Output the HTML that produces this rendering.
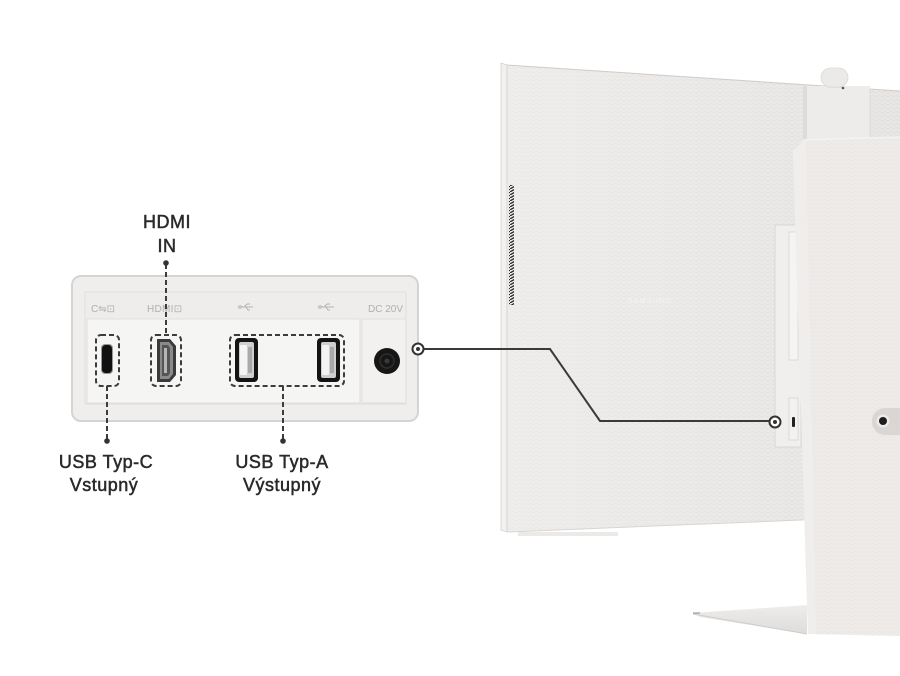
<!DOCTYPE html>
<html><head><meta charset="utf-8"><style>
html,body{margin:0;padding:0;background:#fff;}
body{width:900px;height:676px;overflow:hidden;}
svg{display:block;}
.lbl{font-family:"Liberation Sans",sans-serif;font-size:18px;fill:#2a2a2a;stroke:#2a2a2a;stroke-width:0.5px;letter-spacing:0.5px;}
.hd{font-family:"Liberation Sans","DejaVu Sans",sans-serif;font-size:10px;fill:#b2b0ae;}
</style></head><body>
<svg width="900" height="676" viewBox="0 0 900 676" xmlns="http://www.w3.org/2000/svg">
<defs>
  <pattern id="herr" width="6" height="4" patternUnits="userSpaceOnUse">
    <path d="M0 3.5 L3 1 L6 3.5" fill="none" stroke="#f6f5f4" stroke-width="0.8" opacity="0.55"/>
  </pattern>
  <pattern id="vent" width="5" height="3" patternUnits="userSpaceOnUse">
    <rect width="5" height="3" fill="#f0eeec"/>
    <path d="M-1 3.5 L6 -0.5" stroke="#2a2a2a" stroke-width="1.3"/>
  </pattern>
  <linearGradient id="face" x1="0" y1="0" x2="1" y2="0">
    <stop offset="0" stop-color="#ecebe9"/>
    <stop offset="1" stop-color="#e4e2e0"/>
  </linearGradient>
  <linearGradient id="base" x1="0" y1="0" x2="0" y2="1">
    <stop offset="0" stop-color="#eeedec"/>
    <stop offset="1" stop-color="#dedcda"/>
  </linearGradient>
</defs>

<!-- Monitor back -->
<polygon points="507,65 900,91 900,516 507,532" fill="url(#face)"/>
<polygon points="507,65 900,91 900,516 507,532" fill="url(#herr)"/>
<line x1="507" y1="65" x2="900" y2="91" stroke="#cfcbc8" stroke-width="1"/>
<polygon points="501,63 507,65 507,532 501,530" fill="#f2f1f0" stroke="#d3d0cd" stroke-width="0.8"/>
<line x1="507" y1="532" x2="900" y2="516" stroke="#d8d5d2" stroke-width="1"/>
<rect x="518" y="532" width="100" height="4" fill="#eceae8"/>
<!-- vent -->
<rect x="509" y="185" width="5" height="120" fill="url(#vent)"/>
<!-- faint brand -->
<text x="628" y="303" font-family="Liberation Sans,sans-serif" font-size="7" fill="#f4f3f2" letter-spacing="1.2">SAMSUNG</text>

<!-- monitor port module -->
<rect x="775" y="225" width="26" height="222" fill="#f0efee" stroke="#dad8d6" stroke-width="1"/>
<rect x="789" y="232" width="9" height="128" fill="#f5f4f3" stroke="#d7d5d3" stroke-width="0.8"/>
<rect x="789" y="398" width="9" height="42" fill="#f3f2f1" stroke="#d7d5d3" stroke-width="0.8"/>
<rect x="792" y="417" width="3" height="10" rx="1" fill="#222"/>

<!-- neck -->
<rect x="803" y="86" width="67" height="60" fill="#edeceb"/>
<rect x="803" y="86" width="4" height="60" fill="#dedcda"/>
<line x1="870" y1="89" x2="870" y2="146" stroke="#dcdad8" stroke-width="1"/>
<!-- camera -->
<rect x="828" y="80" width="14" height="8" fill="#e2e0de"/>
<rect x="821" y="68" width="27" height="19" rx="9.5" fill="#ebeae9" stroke="#dcdad8" stroke-width="0.8"/>
<circle cx="843" cy="88" r="1.3" fill="#555"/>

<!-- stand front -->
<polygon points="793,151 803,140 900,137 900,636 808,634" fill="#ebe8e6"/>
<polygon points="793,151 803,140 900,137 900,636 808,634" fill="url(#herr)"/>
<polygon points="793,151 803,141 806,141 816,634 808,634" fill="#f0eeed"/>
<line x1="803" y1="140" x2="900" y2="137" stroke="#f4f3f2" stroke-width="1.5"/>
<!-- stand button pill -->
<rect x="872" y="408" width="40" height="27" rx="13" fill="#d9d6d4"/>
<circle cx="883" cy="421" r="6.5" fill="#eeeceb"/>
<circle cx="883" cy="421" r="4" fill="#1e1e1e"/>

<!-- base plate -->
<polygon points="693,613 807,605 807,634 700,617" fill="url(#base)"/>
<line x1="693" y1="614" x2="807" y2="634" stroke="#cfcdcb" stroke-width="1"/>
<line x1="693" y1="613" x2="700" y2="613" stroke="#9a9896" stroke-width="1.2"/>

<!-- connector -->
<polyline points="424,349 550,349 600,421 769,421" fill="none" stroke="#3a3a3a" stroke-width="2"/>
<circle cx="775" cy="422" r="5.5" fill="#fff" stroke="#333" stroke-width="2"/>
<circle cx="775" cy="422" r="2" fill="#333"/>

<!-- Port panel -->
<rect x="72" y="276" width="346" height="145" rx="9" fill="#efeeed" stroke="#d6d4d2" stroke-width="2"/>
<rect x="85" y="292" width="321" height="112" fill="#eeedec" stroke="#e0dedc" stroke-width="1"/>
<rect x="87" y="319" width="273" height="84" fill="#f5f5f4" stroke="#e1dfdd" stroke-width="1"/>
<rect x="362" y="319" width="44" height="84" fill="#f2f1f0" stroke="#e1dfdd" stroke-width="1"/>

<!-- header labels -->
<text class="hd" x="91" y="312">C⇋⊡</text>
<text class="hd" x="147" y="312" letter-spacing="0.3">HDMI⊡</text>
<g stroke="#b5b3b1" stroke-width="1" fill="none">
  <line x1="241" y1="307" x2="253" y2="307"/><circle cx="240" cy="307" r="1.3"/>
  <path d="M244 307 L247 304 L250 304"/><path d="M246 307 L248 310 L250 310"/>
  <line x1="321" y1="307" x2="334" y2="307"/><circle cx="320" cy="307" r="1.3"/>
  <path d="M324 307 L327 304 L330 304"/><path d="M326 307 L328 310 L330 310"/>
</g>
<text class="hd" x="368" y="312" font-size="10.5">DC 20V</text>

<!-- USB-C port -->
<rect x="101" y="344" width="12" height="30" rx="4" fill="#9a9896"/>
<rect x="102" y="345" width="10" height="28" rx="3.5" fill="#111"/>
<!-- HDMI port -->
<polygon points="157,339 170,339 176,346 176,375 170,382 157,382" fill="#3a3a3a"/>
<polygon points="160,342 169,342 173,347 173,374 169,379 160,379" fill="#8a8a8a"/>
<polygon points="162,345 168,345 170,348 170,373 168,376 162,376" fill="#555"/>
<rect x="164" y="348" width="3" height="25" fill="#b5b5b5"/>
<!-- USB-A ports -->
<g>
  <rect x="235" y="338" width="23" height="44" rx="4" fill="#141414"/>
  <rect x="239" y="342" width="15" height="36" rx="2" fill="#cfcfcf"/>
  <rect x="240" y="345" width="7" height="30" rx="1" fill="#f4f4f4"/>
  <rect x="248" y="347" width="4" height="26" fill="#a9a9a9"/>
</g>
<g>
  <rect x="317" y="338" width="23" height="44" rx="4" fill="#141414"/>
  <rect x="321" y="342" width="15" height="36" rx="2" fill="#cfcfcf"/>
  <rect x="322" y="345" width="7" height="30" rx="1" fill="#f4f4f4"/>
  <rect x="330" y="347" width="4" height="26" fill="#a9a9a9"/>
</g>
<!-- DC jack -->
<circle cx="387" cy="361" r="13" fill="#161616"/>
<circle cx="387" cy="361" r="7" fill="none" stroke="#2e2e2e" stroke-width="1.5"/>
<circle cx="387" cy="361" r="2.5" fill="#3a3a3a"/>
<!-- panel connector circle -->
<circle cx="418" cy="349" r="5.5" fill="#fff" stroke="#333" stroke-width="2"/>
<circle cx="418" cy="349" r="2" fill="#333"/>

<!-- dashed boxes -->
<g fill="none" stroke="#3c3c3c" stroke-width="2" stroke-dasharray="5 3">
  <rect x="96" y="335" width="23" height="51" rx="5"/>
  <rect x="151" y="335" width="30" height="51" rx="5"/>
  <rect x="230" y="335" width="114" height="51" rx="5"/>
  <line x1="166" y1="264" x2="166" y2="335"/>
  <line x1="107" y1="386" x2="107" y2="439"/>
  <line x1="283" y1="386" x2="283" y2="439"/>
</g>
<circle cx="166" cy="263" r="2.8" fill="#333"/>
<circle cx="107" cy="441" r="2.8" fill="#333"/>
<circle cx="283" cy="441" r="2.8" fill="#333"/>

<!-- labels -->
<text class="lbl" x="167" y="228" text-anchor="middle">HDMI</text>
<text class="lbl" x="167" y="252" text-anchor="middle">IN</text>
<text class="lbl" x="106" y="468" text-anchor="middle">USB Typ-C</text>
<text class="lbl" x="104" y="491" text-anchor="middle">Vstupný</text>
<text class="lbl" x="282" y="468" text-anchor="middle">USB Typ-A</text>
<text class="lbl" x="282" y="491" text-anchor="middle">Výstupný</text>
</svg>
</body></html>
